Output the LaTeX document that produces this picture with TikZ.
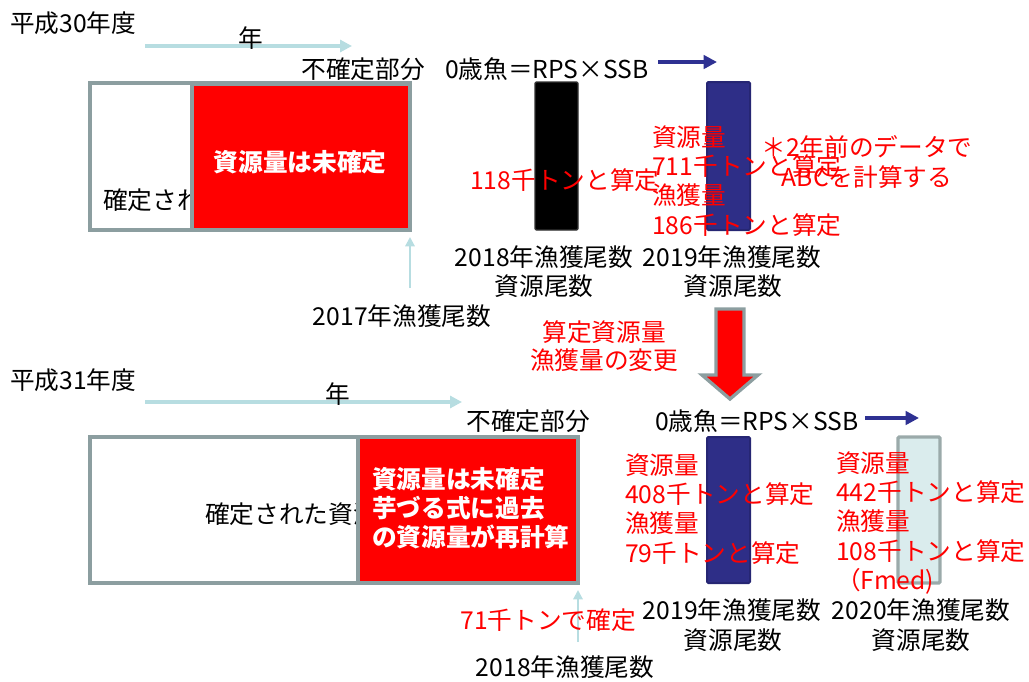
\documentclass[tikz,border=0pt]{standalone}
\usepackage{fontspec}
\setmainfont{Noto Sans CJK JP}
\usetikzlibrary{arrows.meta}
\definecolor{timecol}{RGB}{183,221,225}
\definecolor{boxgray}{RGB}{140,158,160}
\definecolor{navy}{RGB}{46,46,135}
\definecolor{navyedge}{RGB}{38,38,115}
\definecolor{navyarrow}{RGB}{46,49,146}
\definecolor{lightbar}{RGB}{218,236,237}
\definecolor{lightedge}{RGB}{155,170,170}
\tikzset{
  txt/.style={inner sep=0pt, font=\fontsize{18.5}{22}\selectfont},
  redtxt/.style={txt, text=red, align=left},
  whitetxt/.style={txt, text=white, align=left, font=\fontsize{18.5}{21.75}\selectfont\bfseries},
  timearrow/.style={draw=timecol, line width=3pt, -{Triangle[length=9pt,width=9pt]}},
  uparrow/.style={draw=timecol, line width=1.6pt, -{Triangle[length=7pt,width=7pt]}},
  navyarr/.style={draw=navyarrow, line width=3pt, -{Triangle[length=10pt,width=10pt]}},
  framebox/.style={draw=boxgray, line width=3pt, fill=white},
  redbox/.style={draw=boxgray, line width=3pt, fill=red},
}
\begin{document}
\begin{tikzpicture}[x=0.75pt,y=-0.75pt]
\useasboundingbox (0,0) rectangle (1029,682);

% ================= top: H30 =================
\node[txt, anchor=west] (t30) at (10,23) {平成30年度};
\coordinate (a1s) at (145,46);
\coordinate (a1e) at (352,46);
\draw[timearrow] (a1s) -- (a1e);
\node[txt] (nen1) at (251,38) {年};
\node[txt, anchor=east] (fk1) at (425,69) {不確定部分};
\node[txt, anchor=west] (rps1) at (445,69) {0歳魚＝RPS×SSB};
\coordinate (n1s) at (658,62);
\coordinate (n1e) at (717,62);
\draw[navyarr] (n1s) -- (n1e);

\draw[framebox] (90,83) rectangle (410,230);
\node[txt, anchor=west] (kt1) at (103,200) {確定された資源量};
\draw[redbox] (192,84) rectangle (410,230);
\node[whitetxt] (rb1) at (300,162) {資源量は未確定};

\draw[fill=black, draw=black!80, line width=1pt, rounded corners=1pt] (535,82) rectangle (578,230);
\draw[fill=navy, draw=navyedge, line width=1.5pt, rounded corners=1pt] (707,82) rectangle (750,230);

\node[redtxt, anchor=west] (v118) at (470,180) {118千トンと算定};
\node[redtxt, anchor=west] (blk1) at (652,181)
  {資源量\\711千トンと算定\\漁獲量\\186千トンと算定};
\node[txt, text=red, align=center] (note) at (867,162)
  {＊2年前のデータで\\ABCを計算する};

\node[txt] (c2018a) at (544,257) {2018年漁獲尾数};
\node[txt] (c2018b) at (544,286) {資源尾数};
\node[txt] (c2019a) at (732,257) {2019年漁獲尾数};
\node[txt] (c2019b) at (733,286) {資源尾数};

\coordinate (u1s) at (410,288);
\coordinate (u1e) at (410,237);
\draw[uparrow] (u1s) -- (u1e);
\node[txt] (c2017) at (402,316) {2017年漁獲尾数};

% ================= middle =================
\node[txt, text=red, align=center, font=\fontsize{18.5}{21}\selectfont] (chg) at (604,346)
  {算定資源量\\漁獲量の変更};
\draw[fill=red, draw=boxgray, line width=2.5pt, line join=miter]
  (716,309) -- (744,309) -- (744,375) -- (758,375) -- (730,399) -- (702,375) -- (716,375) -- cycle;

% ================= bottom: H31 =================
\node[txt, anchor=west] (t31) at (10,380) {平成31年度};
\coordinate (a2s) at (145,402);
\coordinate (a2e) at (462,402);
\draw[timearrow] (a2s) -- (a2e);
\node[txt] (nen2) at (338,394) {年};
\node[txt, anchor=east] (fk2) at (590,421) {不確定部分};
\node[txt, anchor=west] (rps2) at (655,421) {0歳魚＝RPS×SSB};
\coordinate (n2s) at (865,418);
\coordinate (n2e) at (919,418);
\draw[navyarr] (n2s) -- (n2e);

\draw[framebox] (90,437) rectangle (578,583);
\node[txt, anchor=west] (kt2) at (205,514) {確定された資源量};
\draw[redbox] (358,437) rectangle (578,583);
\node[whitetxt, anchor=west] (rb2) at (372,508)
  {資源量は未確定\\芋づる式に過去\\の資源量が再計算};

\draw[fill=navy, draw=navyedge, line width=1.5pt, rounded corners=1pt] (707,437) rectangle (750,583);
\draw[fill=lightbar, draw=lightedge, line width=2.5pt, rounded corners=1pt] (898,437) rectangle (940,583);

\node[redtxt, anchor=west] (blk2) at (625,509)
  {資源量\\408千トンと算定\\漁獲量\\79千トンと算定};
\node[redtxt, anchor=west] (blk3) at (836,523)
  {資源量\\442千トンと算定\\漁獲量\\108千トンと算定\\（Fmed)};

\node[txt] (d2019a) at (732,610) {2019年漁獲尾数};
\node[txt] (d2019b) at (733,640) {資源尾数};
\node[txt] (d2020a) at (921,610) {2020年漁獲尾数};
\node[txt] (d2020b) at (921,640) {資源尾数};

\coordinate (u2s) at (578,642);
\coordinate (u2e) at (578,590);
\draw[uparrow] (u2s) -- (u2e);
\node[redtxt] (v71) at (548,620) {71千トンで確定};
\node[txt] (d2018) at (565,667) {2018年漁獲尾数};
\end{tikzpicture}
\end{document}
